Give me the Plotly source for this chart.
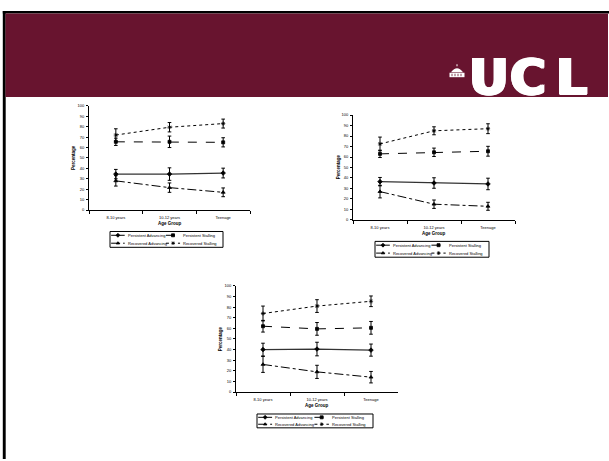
import plotly.graph_objects as go

W, H = 609, 461

groups = ["8-10 years", "10-12 years", "Teenage"]
y_ticks = [0, 10, 20, 30, 40, 50, 60, 70, 80, 90, 100]
series_names = ["Persistent Advancing", "Persistent Stalling", "Recovered Advancing", "Recovered Stalling"]

# Chart 1 (top left)
c1_pa = [34.5, 34.5, 35.5]
c1_pa_err = [4.5, 6, 4.7]
c1_ps = [65.5, 65.5, 65]
c1_ps_err = [3.5, 5.5, 4.4]
c1_ra = [28, 21.5, 17]
c1_ra_err = [5, 4.5, 4.2]
c1_rs = [72, 79.5, 83]
c1_rs_err = [6, 4.5, 4.3]

# Chart 2 (top right)
c2_pa = [36.5, 35.2, 34.3]
c2_pa_err = [4, 5, 5.5]
c2_ps = [63, 64.5, 65.5]
c2_ps_err = [3.5, 4, 4.7]
c2_ra = [27, 15, 13]
c2_ra_err = [6, 4, 3.8]
c2_rs = [72.5, 85, 87]
c2_rs_err = [6.5, 3.8, 4.7]

# Chart 3 (bottom)
c3_pa = [40, 40.5, 39.5]
c3_pa_err = [6, 6.4, 5.7]
c3_ps = [62, 59.5, 60.5]
c3_ps_err = [5.5, 6, 6]
c3_ra = [26, 19, 14]
c3_ra_err = [7.5, 6.2, 5.4]
c3_rs = [74, 81, 85.5]
c3_rs_err = [7, 6, 5]

charts = [
    [(c1_pa, c1_pa_err), (c1_ps, c1_ps_err), (c1_ra, c1_ra_err), (c1_rs, c1_rs_err)],
    [(c2_pa, c2_pa_err), (c2_ps, c2_ps_err), (c2_ra, c2_ra_err), (c2_rs, c2_rs_err)],
    [(c3_pa, c3_pa_err), (c3_ps, c3_ps_err), (c3_ra, c3_ra_err), (c3_rs, c3_rs_err)],
]

styles = [
    dict(dash="solid", symbol="diamond", color="#333", width=1.3, msize=3.5),
    dict(dash="dash", symbol="square", color="black", width=1, msize=3),
    dict(dash="dashdot", symbol="triangle-up", color="black", width=1, msize=3.5),
    dict(dash="dot", symbol="asterisk-open", color="black", width=1, msize=3.5),
]

FONT = "Liberation Sans, Arial, sans-serif"

# pixel boxes of plot areas: (x0, x1, ytop, ybottom)
boxes = [(89, 250, 104, 209.3), (353, 515, 113.3, 219.3), (236, 398, 286, 393.3)]
legend_boxes = [(110, 231, 113, 16), (375, 241, 114, 16), (257, 415.5, 116, 14)]
title_pos = [((73, 156.7), (170, 223.3)), ((338, 166), (434, 232.7)), ((220, 340), (317, 407.3))]

def px(x):
    return x / W

def py(y):
    return 1 - y / H

fig = go.Figure()
layout = dict(
    width=W, height=H, autosize=False,
    margin=dict(l=0, r=0, t=0, b=0),
    paper_bgcolor="white", plot_bgcolor="rgba(0,0,0,0)",
    showlegend=False,
    font=dict(family=FONT, color="black", size=4),
)
shapes = []
annotations = []

def ann(x, y, text, size, xanchor="center", yanchor="middle", **kw):
    f = dict(size=size, family=kw.pop("family", FONT), color=kw.pop("color", "black"))
    if "shadow" in kw:
        f["shadow"] = kw.pop("shadow")
    d = dict(x=px(x), y=py(y), xref="paper", yref="paper", text=text,
             showarrow=False, xanchor=xanchor, yanchor=yanchor, font=f)
    d.update(kw)
    annotations.append(d)

for i, (data, box) in enumerate(zip(charts, boxes)):
    sfx = "" if i == 0 else str(i + 1)
    xa, ya = "x" + sfx, "y" + sfx
    for (vals, err), st, nm in zip(data, styles, series_names):
        fig.add_trace(go.Scatter(
            x=groups, y=vals, name=nm, xaxis=xa, yaxis=ya,
            mode="lines+markers",
            line=dict(color=st["color"], width=st["width"], dash=st["dash"]),
            marker=dict(symbol=st["symbol"], size=st["msize"], color="black",
                        line=dict(color="black", width=0.8)),
            error_y=dict(type="data", array=err, visible=True, color="black",
                         thickness=1, width=1.8),
            cliponaxis=False,
        ))
    x0, x1, yt, yb = box
    layout["xaxis" + sfx] = dict(
        domain=[px(x0), px(x1)], anchor=ya, type="category",
        categoryorder="array", categoryarray=groups, range=[-0.5, 2.5],
        tickson="boundaries", ticks="outside", ticklen=3, tickwidth=1,
        tickcolor="black", showline=True, linecolor="black", linewidth=1,
        showgrid=False, zeroline=False, tickfont=dict(size=4, family=FONT),
        ticklabelstandoff=3, fixedrange=True,
    )
    layout["yaxis" + sfx] = dict(
        domain=[py(yb), py(yt)], anchor=xa, range=[0, 100],
        tickvals=y_ticks, ticks="outside", ticklen=2, tickwidth=1,
        tickcolor="black", showline=True, linecolor="black", linewidth=1,
        showgrid=False, zeroline=False, tickfont=dict(size=4, family=FONT),
        ticklabelstandoff=1, fixedrange=True,
    )
    (ptx, pty), (agx, agy) = title_pos[i]
    ann(ptx, pty, "<b>Percentage</b>", 4.5, textangle=-90)
    ann(agx, agy, "<b>Age Group</b>", 4.5)

    # legend box
    lx, ly, lw, lh = legend_boxes[i]
    shapes.append(dict(type="rect", xref="paper", yref="paper", layer="below",
                       x0=px(lx), x1=px(lx + lw), y0=py(ly + lh), y1=py(ly),
                       line=dict(color="black", width=1), fillcolor="rgba(0,0,0,0)"))
    rows = [ly + lh * 0.24, ly + lh * 0.74]
    cols = [(lx + lw * 0.01, lx + lw * 0.13, lx + lw * 0.14),
            (lx + lw * 0.495, lx + lw * 0.62, lx + lw * 0.63)]
    for k, (st, nm) in enumerate(zip(styles, series_names)):
        r, c = k // 2, k % 2
        sx0, sx1, tx = cols[c]
        yy = rows[r]
        fig.add_trace(go.Scatter(
            x=[sx0, (sx0 + sx1) / 2, sx1], y=[yy, yy, yy], xaxis="x4", yaxis="y4",
            mode="lines", line=dict(color="black", width=1, dash=st["dash"]),
            hoverinfo="skip", showlegend=False))
        fig.add_trace(go.Scatter(
            x=[(sx0 + sx1) / 2], y=[yy], xaxis="x4", yaxis="y4",
            mode="markers", marker=dict(symbol=st["symbol"], size=3, color="black",
                                        line=dict(color="black", width=0.8)),
            hoverinfo="skip", showlegend=False))
        ann(tx, yy, nm, 4, xanchor="left")

layout["xaxis4"] = dict(domain=[0, 1], range=[0, W], visible=False, anchor="y4", fixedrange=True)
layout["yaxis4"] = dict(domain=[0, 1], range=[H, 0], visible=False, anchor="x4", fixedrange=True)

MAROON = "#68142f"
# header band and slide border
shapes.insert(0, dict(type="rect", xref="paper", yref="paper", layer="below",
                      x0=px(5.5), x1=px(608), y0=py(95), y1=py(10.5),
                      fillcolor=MAROON, line=dict(width=0)))
shapes.insert(0, dict(type="rect", xref="paper", yref="paper", layer="below",
                      x0=px(2.8), x1=px(609), y0=py(10.6), y1=py(8),
                      fillcolor="black", line=dict(width=0)))
shapes.insert(0, dict(type="rect", xref="paper", yref="paper", layer="below",
                      x0=px(2.8), x1=px(5.7), y0=0, y1=py(8),
                      fillcolor="black", line=dict(width=0)))
# UCL building icon
shapes.append(dict(type="path", xref="paper", yref="paper",
                   path=f"M {px(451)},{py(70)} Q {px(457)},{py(62)} {px(463)},{py(70)} Z",
                   fillcolor="white", line=dict(width=0)))
shapes.append(dict(type="rect", xref="paper", yref="paper",
                   x0=px(449.5), x1=px(464.5), y0=py(75), y1=py(70.5),
                   fillcolor="white", line=dict(width=0)))
shapes.append(dict(type="rect", xref="paper", yref="paper",
                   x0=px(456.5), x1=px(457.5), y0=py(64), y1=py(62),
                   fillcolor="white", line=dict(width=0)))
for cx in [452, 455, 458, 461]:
    shapes.append(dict(type="line", xref="paper", yref="paper",
                       x0=px(cx), x1=px(cx), y0=py(74), y1=py(71.5),
                       line=dict(color=MAROON, width=0.8)))

heavy = "1.5px 0px 0px white, -1.5px 0px 0px white, 0px 1px 0px white, 1px 1px 0px white, -1px 1px 0px white"
for letter, cx in [("U", 489), ("C", 528), ("L", 571)]:
    ann(cx, 75.5, f"<b>{letter}</b>", 49, family="DejaVu Sans, Liberation Sans",
        color="white", shadow=heavy)

layout["shapes"] = shapes
layout["annotations"] = annotations
fig.update_layout(**layout)
fig.write_html("out.html")
